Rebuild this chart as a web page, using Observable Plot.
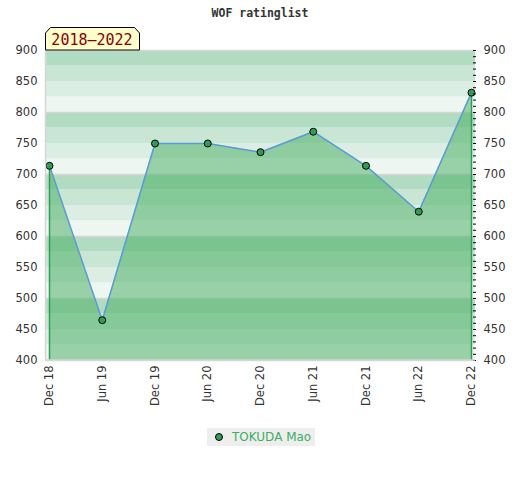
<!DOCTYPE html>
<html>
<head>
<meta charset="utf-8">
<script src="https://cdn.jsdelivr.net/npm/d3@7"></script>
<script src="https://cdn.jsdelivr.net/npm/@observablehq/plot@0.6"></script>
<style>
  html, body { margin: 0; padding: 0; background: #fff; }
  #wrap { position: relative; width: 520px; height: 480px; }
  #wrap svg { position: absolute; left: 0; top: 0; }
  #legend { position: absolute; left: 207px; top: 428px; width: 108px; height: 18px; background: #eeeeee;
            font-family: "DejaVu Sans", sans-serif; font-size: 12px; color: #3cae63; line-height: 18px; }
  #legend .dot { position: absolute; left: 8px; top: 5px; width: 6px; height: 6px; border-radius: 50%;
                 background: #2e9e57; border: 1px solid #000; }
  #legend .lab { position: absolute; left: 25px; top: 0; }
</style>
</head>
<body>
<div id="wrap"></div>
<script>
const title = "WOF ratinglist";
const period = "2018–2022";
const playerName = "TOKUDA Mao";
const dates = ["Dec 18", "Jun 19", "Dec 19", "Jun 20", "Dec 20", "Jun 21", "Dec 21", "Jun 22", "Dec 22"];
const ratings = [714, 465, 750, 750, 736, 769, 714, 640, 832];
const yTicks = [400, 450, 500, 550, 600, 650, 700, 750, 800, 850, 900];
const yMin = 400, yMax = 900;

const data = dates.map((d, i) => ({i, date: d, rating: ratings[i]}));
const stripeColors = ["#b2dcc2", "#c8e6d3", "#dcede3", "#eef6f1"];
const bands = d3.range(yMin, yMax, 25).map(lo => ({lo, hi: lo + 25, k: ((yMax - (lo + 25)) / 25) % 4}));
const green = "#2e9e57";

const chart = Plot.plot({
  width: 520,
  height: 420,
  marginTop: 50,
  marginBottom: 60,
  marginLeft: 45,
  marginRight: 45,
  style: {fontFamily: "DejaVu Sans, sans-serif", fontSize: "11.5px", color: "#333", background: "transparent"},
  x: {domain: [0, dates.length - 1], inset: 4, label: null},
  y: {domain: [yMin, yMax], label: null},
  color: {type: "identity"},
  marks: [
    Plot.rect(bands, {y1: "lo", y2: "hi", fill: d => stripeColors[d.k]}),
    Plot.ruleY(d3.range(yMin, yMax + 1, 100), {stroke: "#d6d6d6", strokeWidth: 1.5}),
    Plot.areaY(data, {x: "i", y1: yMin, y2: "rating", fill: "#41ab5d", fillOpacity: 0.5}),
    Plot.ruleX([data[0], data[data.length - 1]], {x: "i", y1: yMin, y2: "rating", stroke: green, strokeWidth: 1.5}),
    Plot.line(data, {x: "i", y: "rating", stroke: "#5b9bd5", strokeWidth: 1.5}),
    Plot.dot(data, {x: "i", y: "rating", r: 3.5, fill: green, stroke: "#000", strokeWidth: 1}),
    Plot.axisX({ticks: d3.range(dates.length), tickFormat: i => dates[i], tickRotate: -90, tickSize: 0, tickPadding: 5, label: null}),
    Plot.axisY({anchor: "left", ticks: yTicks, tickSize: 0, tickPadding: 8, label: null}),
    Plot.axisY({anchor: "right", ticks: yTicks, tickSize: 0, tickPadding: 8, label: null}),
    Plot.axisY({anchor: "right", ticks: d3.range(yMin, yMax + 1, 10), tickSize: 3, tickFormat: () => "", dx: -3, stroke: "#000", strokeOpacity: 1, label: null})
  ]
});

const svg = d3.select(chart);
// bottom and top frame borders
svg.append("line").attr("x1", 45).attr("x2", 475).attr("y1", 360).attr("y2", 360)
  .attr("stroke", "#d6d6d6").attr("stroke-width", 1.5);
// left frame border
svg.append("line").attr("x1", 45.5).attr("x2", 45.5).attr("y1", 50).attr("y2", 360)
  .attr("stroke", "#d6d6d6").attr("stroke-width", 1.5);
// title
svg.append("text").attr("x", 260).attr("y", 17).attr("text-anchor", "middle")
  .attr("font-family", "DejaVu Sans Mono, monospace").attr("font-weight", "bold")
  .attr("font-size", "11.5px").attr("fill", "#333").text(title);
// period badge
svg.append("polygon").attr("points", "45.5,50 45.5,33 50.5,27.5 134.5,27.5 139.5,33 139.5,50")
  .attr("fill", "#ffffcc").attr("stroke", "#000").attr("stroke-width", 1);
svg.append("text").attr("x", 92).attr("y", 45).attr("text-anchor", "middle")
  .attr("font-family", "DejaVu Sans Mono, monospace").attr("font-size", "15px")
  .attr("fill", "#8b0000").text(period);

const wrap = document.getElementById("wrap");
wrap.appendChild(chart);
const legend = document.createElement("div");
legend.id = "legend";
legend.innerHTML = '<span class="dot"></span><span class="lab"></span>';
legend.querySelector(".lab").textContent = playerName;
wrap.appendChild(legend);
</script>
</body>
</html>
